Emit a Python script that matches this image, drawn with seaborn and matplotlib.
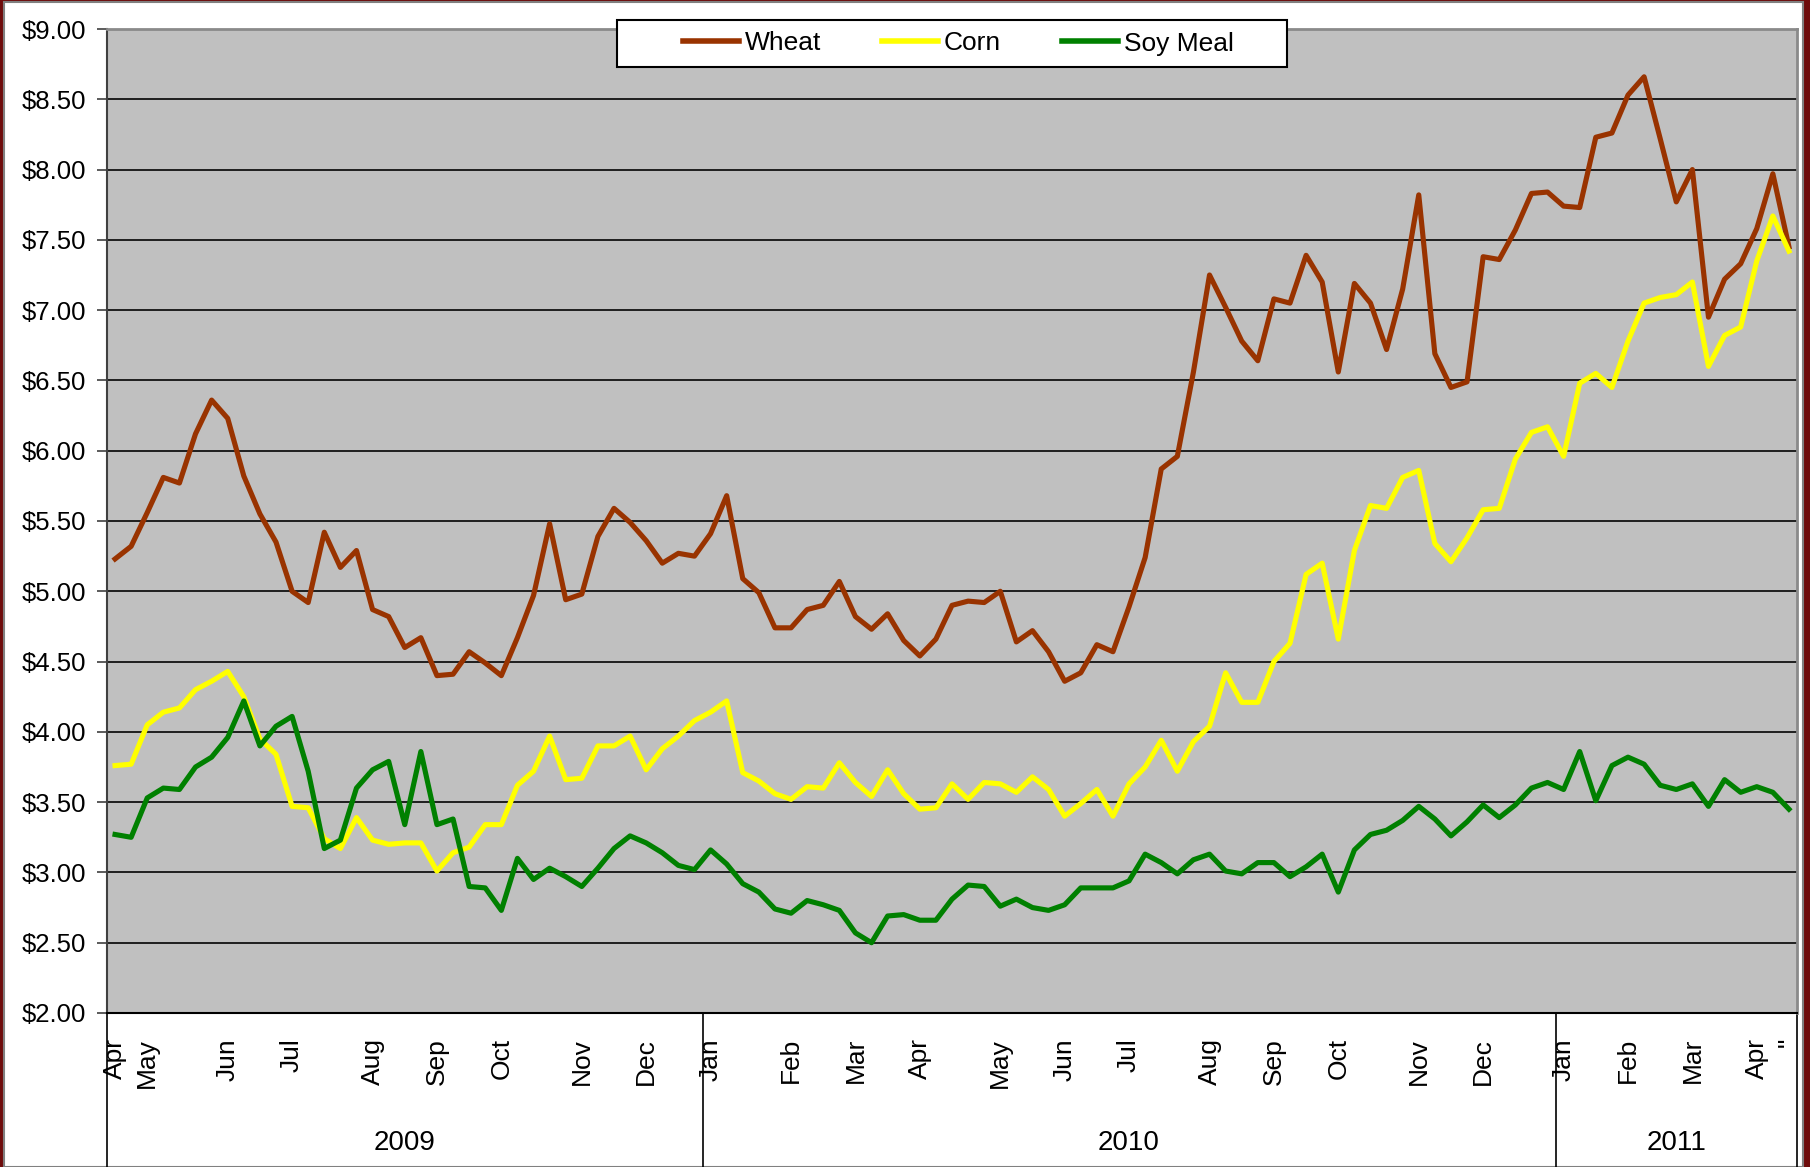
# Weekly grain prices, Apr 2009 - Apr 2011 (Excel-style line chart)

import numpy as np
import pandas as pd
import seaborn as sns
import matplotlib.pyplot as plt
import matplotlib.transforms as mtransforms
from matplotlib.patches import Rectangle

plt.rcParams['font.family'] = ['Liberation Sans', 'DejaVu Sans']

# one category per week, first one mid-April 2009
weeks = pd.date_range("2009-04-17", periods=105, freq="7D")

wheat = [
    5.23, 5.32, 5.56, 5.81, 5.77, 6.12, 6.36, 6.23, 5.82, 5.55,
    5.35, 5.00, 4.92, 5.42, 5.17, 5.29, 4.87, 4.82, 4.60, 4.67,
    4.40, 4.41, 4.57, 4.49, 4.40, 4.67, 4.97, 5.48, 4.94, 4.98,
    5.39, 5.59, 5.49, 5.36, 5.20, 5.27, 5.25, 5.41, 5.68, 5.09,
    4.99, 4.74, 4.74, 4.87, 4.90, 5.07, 4.82, 4.73, 4.84, 4.65,
    4.54, 4.66, 4.90, 4.93, 4.92, 5.00, 4.64, 4.72, 4.57, 4.36,
    4.42, 4.62, 4.57, 4.89, 5.24, 5.87, 5.96, 6.56, 7.25, 7.02,
    6.78, 6.64, 7.08, 7.05, 7.39, 7.20, 6.56, 7.19, 7.05, 6.72,
    7.15, 7.82, 6.69, 6.45, 6.49, 7.38, 7.36, 7.57, 7.83, 7.84,
    7.74, 7.73, 8.23, 8.26, 8.53, 8.66, 8.22, 7.77, 8.00, 6.95,
    7.22, 7.33, 7.58, 7.97, 7.45]

corn = [
    3.76, 3.77, 4.05, 4.14, 4.17, 4.30, 4.36, 4.43, 4.25, 3.95,
    3.84, 3.47, 3.46, 3.24, 3.17, 3.39, 3.23, 3.20, 3.21, 3.21,
    3.01, 3.14, 3.18, 3.34, 3.34, 3.62, 3.72, 3.97, 3.66, 3.67,
    3.90, 3.90, 3.97, 3.73, 3.88, 3.97, 4.08, 4.14, 4.22, 3.71,
    3.65, 3.56, 3.52, 3.61, 3.60, 3.78, 3.64, 3.54, 3.73, 3.56,
    3.45, 3.46, 3.63, 3.52, 3.64, 3.63, 3.57, 3.68, 3.59, 3.40,
    3.49, 3.59, 3.40, 3.63, 3.75, 3.94, 3.72, 3.93, 4.04, 4.42,
    4.21, 4.21, 4.50, 4.63, 5.12, 5.20, 4.66, 5.29, 5.61, 5.59,
    5.81, 5.86, 5.34, 5.21, 5.38, 5.58, 5.59, 5.94, 6.13, 6.17,
    5.96, 6.48, 6.55, 6.45, 6.78, 7.05, 7.09, 7.11, 7.20, 6.60,
    6.82, 6.88, 7.35, 7.67, 7.42]

soy_meal = [
    3.27, 3.25, 3.53, 3.60, 3.59, 3.75, 3.82, 3.96, 4.22, 3.90,
    4.04, 4.11, 3.72, 3.17, 3.23, 3.60, 3.73, 3.79, 3.34, 3.86,
    3.34, 3.38, 2.90, 2.89, 2.73, 3.10, 2.95, 3.03, 2.97, 2.90,
    3.03, 3.17, 3.26, 3.21, 3.14, 3.05, 3.02, 3.16, 3.06, 2.92,
    2.86, 2.74, 2.71, 2.80, 2.77, 2.73, 2.57, 2.50, 2.69, 2.70,
    2.66, 2.66, 2.81, 2.91, 2.90, 2.76, 2.81, 2.75, 2.73, 2.77,
    2.89, 2.89, 2.89, 2.94, 3.13, 3.07, 2.99, 3.09, 3.13, 3.01,
    2.99, 3.07, 3.07, 2.97, 3.04, 3.13, 2.86, 3.16, 3.27, 3.30,
    3.37, 3.47, 3.38, 3.26, 3.36, 3.48, 3.39, 3.48, 3.60, 3.64,
    3.59, 3.86, 3.51, 3.76, 3.82, 3.77, 3.62, 3.59, 3.63, 3.47,
    3.66, 3.57, 3.61, 3.57, 3.45]

colors = {"Wheat": "#993300", "Corn": "#FFFF00", "Soy Meal": "#008000"}
y_ticks = np.arange(2.0, 9.01, 0.5)
last_label = '"'   # clipped label under the last week

df = pd.DataFrame({"week": np.arange(len(weeks)),
                   "Wheat": wheat, "Corn": corn, "Soy Meal": soy_meal})
long_df = df.melt(id_vars="week", var_name="commodity", value_name="price")

W, H = 1810, 1167
fig = plt.figure(figsize=(W / 100, H / 100), dpi=100)
fig.patch.set_facecolor("#6e0b0b")
fig.add_artist(Rectangle((4 / W, 0), 1799 / W, 1165 / H, transform=fig.transFigure,
                         facecolor="white", edgecolor="#808080", lw=1.5, zorder=-1))

ax = fig.add_axes([107 / W, 1 - 1013 / H, 1690 / W, 984 / H])
ax.set_facecolor("#C0C0C0")

sns.lineplot(data=long_df, x="week", y="price", hue="commodity", palette=colors,
             estimator=None, linewidth=3.7, ax=ax)

# month labels at the first week of each month
months = weeks.month
month_pos = [i for i in range(len(weeks)) if i == 0 or months[i] != months[i - 1]]
month_labels = [weeks[i].strftime("%b") for i in month_pos]
month_pos.append(len(weeks) - 1)
month_labels.append(last_label)

ax.set_xticks(month_pos)
ax.set_xticklabels(month_labels, rotation=90, va="top")
ax.set_yticks(y_ticks)
ax.set_yticklabels([f"${v:.2f}" for v in y_ticks])
ax.tick_params(axis="x", length=0, pad=18, labelsize=19)
ax.tick_params(axis="y", length=7, width=1.2, color="#404040", pad=8, labelsize=18.5)
ax.set_xlabel("")
ax.set_ylabel("")

ax.yaxis.grid(True, color="#111111", lw=1.3)
ax.set_axisbelow(True)
for side in ["top", "right"]:
    ax.spines[side].set_color("#8a8a8a")
    ax.spines[side].set_linewidth(2)
ax.spines["left"].set_color("#404040")
ax.spines["left"].set_linewidth(1.5)
ax.spines["bottom"].set_color("black")
ax.spines["bottom"].set_linewidth(1.5)

# year groups under the month labels
trans = mtransforms.blended_transform_factory(ax.transData, ax.transAxes)
years = weeks.year
bounds = [-0.5] + [i - 0.5 for i in range(1, len(weeks)) if years[i] != years[i - 1]] + [len(weeks) - 0.5]
for b in bounds:
    ax.plot([b, b], [0, -0.16], transform=trans, color="black", lw=1.2, clip_on=False)
for a, b in zip(bounds[:-1], bounds[1:]):
    ax.text((a + b) / 2, -0.132, str(years[int(a + 0.5)]), transform=trans,
            ha="center", va="center", fontsize=20)
ax.set_xlim(-0.5, len(weeks) - 0.5)
ax.set_ylim(2, 9)

# legend box on top of the plot
ax.add_patch(Rectangle((617 / W, 1 - 67 / H), 670 / W, 47 / H, transform=fig.transFigure,
                       facecolor="white", edgecolor="black", lw=1.5, clip_on=False, zorder=4))
sns.move_legend(ax, "center", bbox_to_anchor=(958 / W, 1 - 43.5 / H),
                bbox_transform=fig.transFigure, ncol=3, title=None, frameon=False,
                fontsize=19, handlelength=2.15, handletextpad=0.2, columnspacing=2.3)
leg = ax.get_legend()
leg.set_zorder(5)
for line in leg.get_lines():
    line.set_linewidth(4)

fig.savefig("out.png", dpi=100, facecolor=fig.get_facecolor())
